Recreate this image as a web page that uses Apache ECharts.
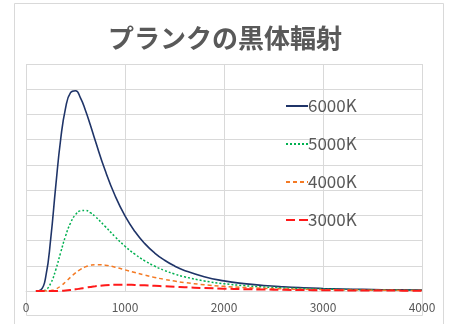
<!DOCTYPE html>
<html>
<head>
<meta charset="utf-8">
<script src="https://cdn.jsdelivr.net/npm/echarts@6/dist/echarts.min.js"></script>
<style>
  html, body { margin: 0; padding: 0; background: #ffffff; }
  #chart { width: 449px; height: 324px; }
</style>
</head>
<body>
<div id="chart"></div>
<script>
// Wavelength samples (nm)
const wavelengths = [100,150,200,250,300,350,400,450,500,550,600,650,700,800,900,1000,1100,1200,1300,1400,1500,1600,1800,2000,2200,2400,2600,2800,3000,3200,3400,3600,3800,4000];

// Spectral radiance at each wavelength for each temperature
const radiance6000 = [0.46,179,2310,8327,16563,24027,29049,31452,31750,30630,28665,26321,23819,19094,15105,11909,9425,7509,6020,4871,3973,3267,2260,1606,1171,872,662,511,400,318,256,208,171,142];
const radiance5000 = [0,7.3,210,1223,3346,6094,8743,10796,12106,12710,12760,12415,11809,10241,8598,7101,5832,4786,3937,3252,2699,2253,1597,1157,856,646,495,386,305,243,197,161,133,110];
const radiance4000 = [0,0.06,5.8,69,304,780,1446,2181,2865,3423,3825,4070,4181,4099,3775,3356,2922,2515,2151,1837,1568,1341,989,738,560,430,335,265,212,171,139,115,95,80];
const radiance3000 = [0,0,0.01,0.57,5.6,25,72,152,260,387,518,642,751,908,983,992,957,896,823,744,669,597,472,372,295,235,188,152,124,102,85,71,59,50];

const seriesNames = ['6000K', '5000K', '4000K', '3000K'];
const titleText = 'プランクの黒体輻射';

const FONT = '"Noto Sans CJK JP", "Noto Sans", sans-serif';
const TEXT = '#595959';
const GRID = '#d9d9d9';

const pairs = vals => wavelengths.map((w, i) => [w, vals[i]]);

const styles = [
  { color: '#1f3468', width: 1.6, type: 'solid' },
  { color: '#00b050', width: 1.5, type: [2, 2] },
  { color: '#f47a24', width: 1.5, type: [4, 3] },
  { color: '#ff1a1a', width: 2, type: [9, 4] }
];
const dataSets = [radiance6000, radiance5000, radiance4000, radiance3000];

const chart = echarts.init(document.getElementById('chart'), null, { renderer: 'canvas' });
chart.setOption({
  animation: false,
  backgroundColor: '#ffffff',
  title: {
    text: titleText,
    left: 103,
    top: 20,
    textStyle: { fontFamily: FONT, fontSize: 26, fontWeight: 'bold', color: TEXT }
  },
  legend: {
    orient: 'vertical',
    left: 280,
    top: 91,
    itemWidth: 22,
    itemHeight: 14,
    itemGap: 18,
    itemStyle: { opacity: 0 },
    textStyle: { fontFamily: FONT, fontSize: 17, color: TEXT, lineHeight: 20, padding: [0, 0, 0, -5] },
    data: seriesNames
  },
  grid: { left: 26, right: 27, top: 64, bottom: 33, containLabel: false },
  xAxis: {
    type: 'value',
    min: 0,
    max: 4000,
    interval: 1000,
    axisLine: { show: true, lineStyle: { color: GRID, width: 1 } },
    axisTick: { show: false },
    axisLabel: { color: TEXT, fontFamily: FONT, fontSize: 12, margin: 10, formatter: v => String(v) },
    splitLine: { show: true, lineStyle: { color: GRID, width: 1 } }
  },
  yAxis: {
    type: 'value',
    min: 0,
    max: 36000,
    interval: 4000,
    axisLine: { show: false },
    axisTick: { show: false },
    axisLabel: { show: false },
    splitLine: { show: true, lineStyle: { color: GRID, width: 1 } }
  },
  graphic: [
    {
      type: 'rect',
      shape: { x: 14.5, y: 3.5, width: 429, height: 340 },
      style: { fill: null, stroke: GRID, lineWidth: 1 },
      silent: true
    },
    {
      type: 'polyline',
      shape: { points: [[26.5, 291], [26.5, 315.5], [422.5, 315.5], [422.5, 291]] },
      style: { fill: null, stroke: GRID, lineWidth: 1 },
      silent: true
    }
  ],
  series: seriesNames.map((name, i) => ({
    name,
    type: 'line',
    data: pairs(dataSets[i]),
    showSymbol: false,
    symbol: 'none',
    smooth: 0.5,
    color: styles[i].color,
    lineStyle: { color: styles[i].color, width: styles[i].width, type: styles[i].type }
  }))
});
</script>
</body>
</html>
